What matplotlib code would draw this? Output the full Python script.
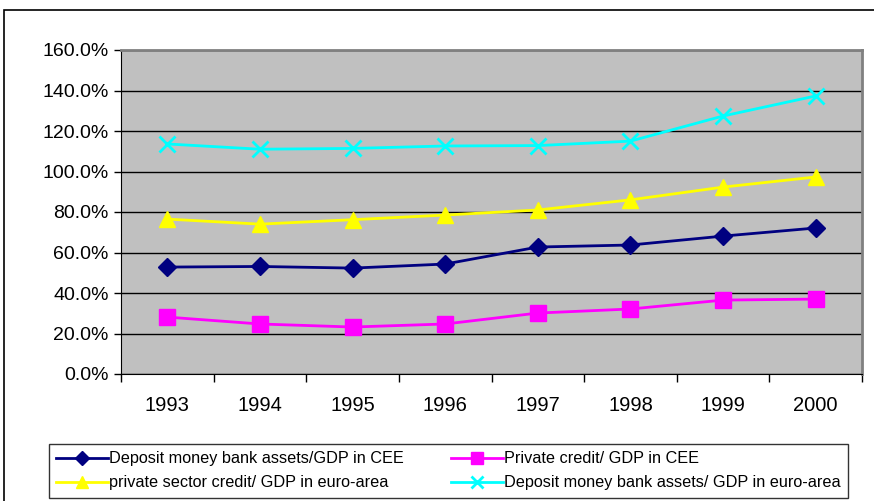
import matplotlib.pyplot as plt
from matplotlib.patches import Rectangle
from matplotlib.ticker import FuncFormatter

plt.rcParams['font.family'] = ['Liberation Sans', 'DejaVu Sans']

years = ['1993', '1994', '1995', '1996', '1997', '1998', '1999', '2000']
dmb_cee = [52.8, 53.1, 52.3, 54.3, 62.7, 63.7, 68.1, 72.1]
private_cee = [28.1, 24.7, 23.2, 24.7, 30.1, 32.1, 36.5, 37.0]
private_euro = [76.5, 74.0, 76.2, 78.5, 81.0, 86.0, 92.3, 97.3]
dmb_euro = [113.6, 111.0, 111.4, 112.6, 112.8, 115.0, 127.4, 137.3]

labels = ['Deposit money bank assets/GDP in CEE',
          'Private credit/ GDP in CEE',
          'private sector credit/ GDP in euro-area',
          'Deposit money bank assets/ GDP in euro-area']

W, H = 874, 501
fig = plt.figure(figsize=(W / 100, H / 100), dpi=100)

# outer chart frame (runs off the right and bottom edges)
fig.patches.append(Rectangle((4 / W, -0.1), 1.2, 1 - 10 / H + 0.1,
                             transform=fig.transFigure, fill=False,
                             edgecolor='black', linewidth=1.2))

ax = fig.add_axes([121 / W, 1 - 374 / H, (862 - 121) / W, (374 - 50) / H])
ax.set_facecolor('#C0C0C0')

x = list(range(len(years)))
l1, = ax.plot(x, dmb_cee, color='#000080', marker='D', markersize=9, linewidth=2)
l2, = ax.plot(x, private_cee, color='#FF00FF', marker='s', markersize=11, linewidth=2)
l3, = ax.plot(x, private_euro, color='#FFFF00', marker='^', markersize=11, linewidth=2)
l4, = ax.plot(x, dmb_euro, color='#00FFFF', marker='x', markersize=11,
              markeredgewidth=2, linewidth=2)

ax.set_xlim(-0.5, len(years) - 0.5)
ax.set_ylim(0, 160)
ax.set_yticks(range(0, 161, 20))
ax.yaxis.set_major_formatter(FuncFormatter(lambda v, p: f'{v:.1f}%'))
ax.yaxis.grid(True, color='black', linewidth=1)
ax.set_axisbelow(True)

ax.set_xticks([i - 0.5 for i in range(len(years) + 1)])
ax.set_xticklabels([])
ax.set_xticks(x, minor=True)
ax.set_xticklabels(years, minor=True, fontsize=14.5)
ax.tick_params(axis='x', which='minor', length=0, pad=16)
ax.tick_params(axis='x', which='major', length=6, width=1, direction='out')
ax.tick_params(axis='y', length=5, width=1, labelsize=14, pad=4)

ax.spines['left'].set_color('black')
ax.spines['bottom'].set_color('black')
for s in ('top', 'right'):
    ax.spines[s].set_color('#808080')
    ax.spines[s].set_linewidth(2)

# legend is filled row by row: CEE pair on top, euro-area pair below
handles = [l1, l3, l2, l4]
order = [labels[0], labels[2], labels[1], labels[3]]
leg = fig.legend(handles, order, ncol=2, loc='upper left',
                 bbox_to_anchor=(49 / W, 1 - 444 / H), fontsize=11.7,
                 frameon=True, fancybox=False, edgecolor='black',
                 handlelength=3.2, handletextpad=0.05, columnspacing=2.9,
                 labelspacing=0.55, borderpad=0.45, borderaxespad=0,
                 markerscale=0.8)
leg.get_frame().set_linewidth(1)

fig.savefig('out.png', dpi=100, facecolor='white')
